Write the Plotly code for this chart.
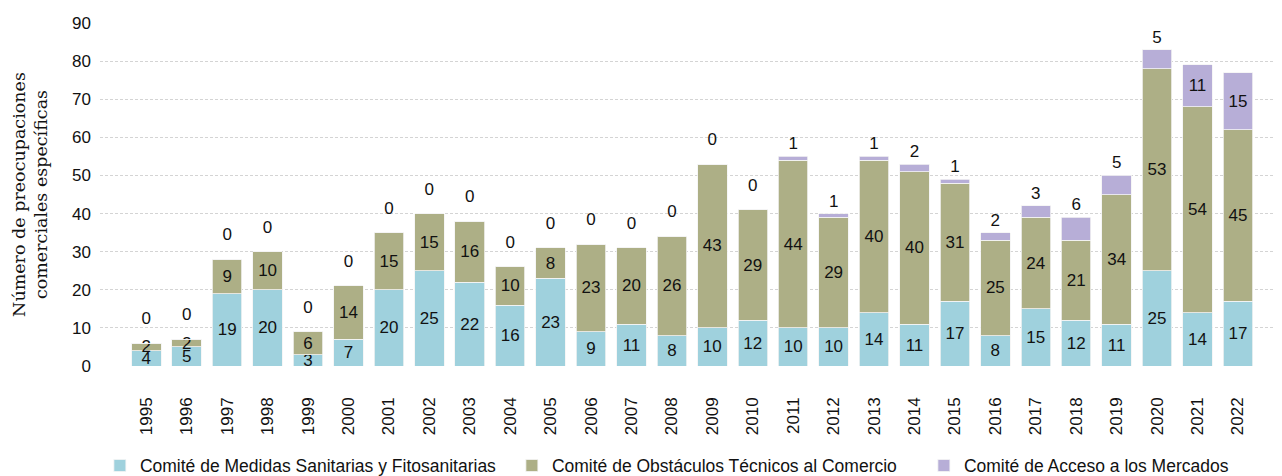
import plotly.graph_objects as go

years = ["1995", "1996", "1997", "1998", "1999", "2000", "2001", "2002", "2003", "2004",
         "2005", "2006", "2007", "2008", "2009", "2010", "2011", "2012", "2013", "2014",
         "2015", "2016", "2017", "2018", "2019", "2020", "2021", "2022"]
sps = [4, 5, 19, 20, 3, 7, 20, 25, 22, 16, 23, 9, 11, 8, 10, 12, 10, 10, 14, 11, 17, 8, 15, 12, 11, 25, 14, 17]
tbt = [2, 2, 9, 10, 6, 14, 15, 15, 16, 10, 8, 23, 20, 26, 43, 29, 44, 29, 40, 40, 31, 25, 24, 21, 34, 53, 54, 45]
ma = [0, 0, 0, 0, 0, 0, 0, 0, 0, 0, 0, 0, 0, 0, 0, 0, 1, 1, 1, 2, 1, 2, 3, 6, 5, 5, 11, 15]

names = ["Comité de Medidas Sanitarias y Fitosanitarias",
         "Comité de Obstáculos Técnicos al Comercio",
         "Comité de Acceso a los Mercados"]
colors = ["#9fd1dd", "#adaf86", "#b7aed7"]

FONT = "Liberation Sans, Arial, Helvetica, sans-serif"
lbl_font = dict(family=FONT, size=17, color="#111111")

fig = go.Figure()
for vals, name, col in [(sps, names[0], colors[0]), (tbt, names[1], colors[1])]:
    fig.add_trace(go.Bar(
        x=years, y=vals, name=name,
        marker=dict(color=col, line=dict(color="#f4f4f4", width=0.8)),
        text=[str(v) for v in vals], textposition="inside", insidetextanchor="middle",
        textangle=0, constraintext="none", textfont=lbl_font, hoverinfo="skip",
    ))

ma_text = [str(v) if v > 0 else "" for v in ma]
ma_pos = ["inside" if v >= 10 else "outside" for v in ma]
fig.add_trace(go.Bar(
    x=years, y=ma, name=names[2],
    marker=dict(color=colors[2], line=dict(color="#f4f4f4", width=0.8)),
    text=ma_text, textposition=ma_pos, insidetextanchor="middle",
    textangle=0, constraintext="none", textfont=lbl_font, cliponaxis=False,
    hoverinfo="skip",
))

# labels for zero values of the market access series, above the stacked bar
zx = [y for y, v in zip(years, ma) if v == 0]
zy = [s + t for s, t, v in zip(sps, tbt, ma) if v == 0]
fig.add_trace(go.Scatter(
    x=zx, y=zy, mode="markers+text", text=["0"] * len(zx),
    textposition="top center", textfont=lbl_font,
    marker=dict(size=22, color="rgba(0,0,0,0)"),
    showlegend=False, hoverinfo="skip", cliponaxis=False,
))

fig.update_layout(
    width=1274, height=468,
    barmode="stack", bargap=0.27,
    plot_bgcolor="white", paper_bgcolor="white",
    font=dict(family=FONT, size=17, color="#111111"),
    margin=dict(l=92, r=0, t=15, b=110, autoexpand=False),
    showlegend=True,
    legend=dict(orientation="h", x=-0.0001, xanchor="left", y=-0.238, yanchor="top",
                font=dict(family=FONT, size=17.5, color="#111111"),
                entrywidth=367, entrywidthmode="pixels", traceorder="normal",
                itemwidth=30),
    xaxis=dict(type="category", range=[-1.145, 28.09], tickangle=-90,
               showgrid=False, showline=False, ticks="", ticklabelstandoff=27,
               automargin=False,
               tickfont=dict(family=FONT, size=17, color="#111111")),
    yaxis=dict(range=[0, 90], dtick=10, showgrid=True, gridcolor="#d4d4d4",
               griddash="3px,2px", gridwidth=1, zeroline=False, showline=False,
               ticks="", ticklabelstandoff=8, automargin=False,
               tickfont=dict(family=FONT, size=17, color="#111111")),
)
fig.update_yaxes(title=dict(text="Número de preocupaciones<br>comerciales específicas",
                            font=dict(family="DejaVu Serif, Liberation Serif, serif",
                                      size=17.5, color="#111111"),
                            standoff=19))

fig.write_html("out.html")
